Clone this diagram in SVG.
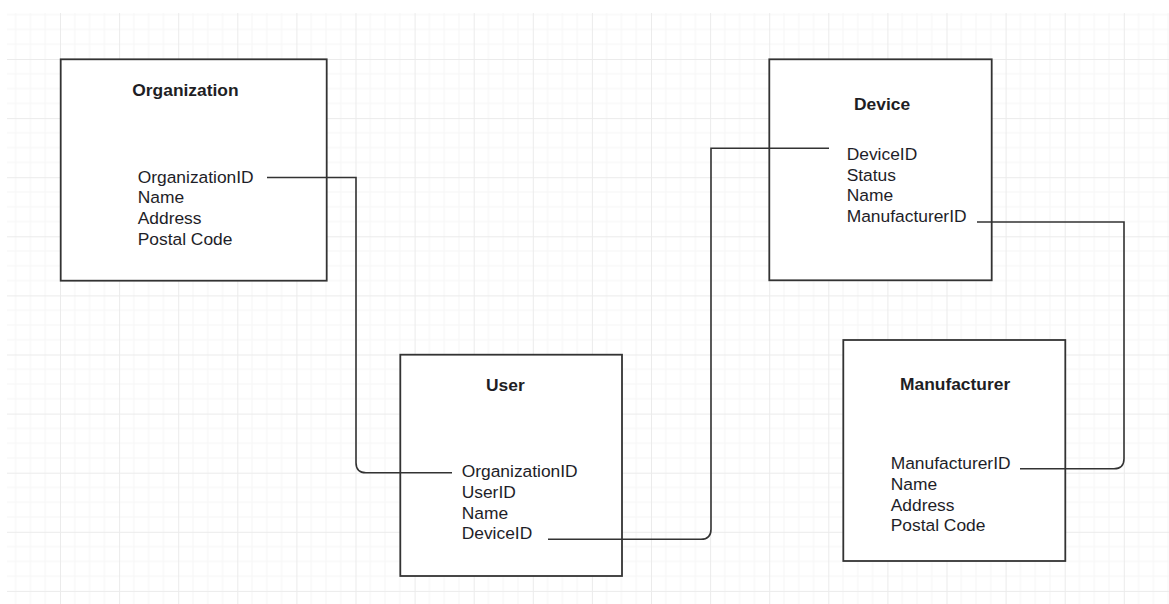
<svg xmlns="http://www.w3.org/2000/svg" width="1169" height="604" viewBox="0 0 1169 604">
  <style>
    .box { fill: #ffffff; stroke: #333333; stroke-width: 1.8; }
    .title { font-family: "Liberation Sans", Arial, sans-serif; font-size: 17.4px; font-weight: bold; fill: #1e1e24; }
    .field { font-family: "Liberation Sans", Arial, sans-serif; font-size: 17.4px; fill: #1e1e28; }
    .link { fill: none; stroke: #333333; stroke-width: 1.6; }
  </style>
  <defs>
    <!-- canvas grid: minor every 14.78px, major every 59.1px -->
    <pattern id="grid" patternUnits="userSpaceOnUse" x="60" y="59" width="59.1" height="59.1">
      <g stroke="#f5f5f5" stroke-width="1">
        <line x1="14.78" y1="0" x2="14.78" y2="59.1"/>
        <line x1="29.55" y1="0" x2="29.55" y2="59.1"/>
        <line x1="44.33" y1="0" x2="44.33" y2="59.1"/>
        <line x1="0" y1="14.78" x2="59.1" y2="14.78"/>
        <line x1="0" y1="29.55" x2="59.1" y2="29.55"/>
        <line x1="0" y1="44.33" x2="59.1" y2="44.33"/>
      </g>
      <g stroke="#ebebeb" stroke-width="1">
        <line x1="0.5" y1="0" x2="0.5" y2="59.1"/>
        <line x1="0" y1="0.5" x2="59.1" y2="0.5"/>
      </g>
    </pattern>
  </defs>

  <rect x="0" y="0" width="1169" height="604" fill="#ffffff"/>
  <rect x="7" y="13" width="1162" height="591" fill="url(#grid)"/>

  <g id="organization">
    <rect class="box" x="60.7" y="59.3" width="266" height="221.4"/>
    <text class="title" x="132.3" y="95.7">Organization</text>
    <text class="field" x="137.7" y="182.7">OrganizationID</text>
    <text class="field" x="137.7" y="203.3">Name</text>
    <text class="field" x="137.7" y="224">Address</text>
    <text class="field" x="137.7" y="244.6">Postal Code</text>
  </g>

  <g id="user">
    <rect class="box" x="400.3" y="354.7" width="221.7" height="221.3"/>
    <text class="title" x="486" y="390.7">User</text>
    <text class="field" x="461.7" y="477.3">OrganizationID</text>
    <text class="field" x="461.7" y="498">UserID</text>
    <text class="field" x="461.7" y="518.7">Name</text>
    <text class="field" x="461.7" y="539.3">DeviceID</text>
  </g>

  <g id="device">
    <rect class="box" x="769.3" y="59.3" width="222.4" height="221"/>
    <text class="title" x="854" y="110">Device</text>
    <text class="field" x="846.7" y="160">DeviceID</text>
    <text class="field" x="846.7" y="180.7">Status</text>
    <text class="field" x="846.7" y="201.3">Name</text>
    <text class="field" x="846.7" y="222">ManufacturerID</text>
  </g>

  <g id="manufacturer">
    <rect class="box" x="843.3" y="340" width="222" height="221"/>
    <text class="title" x="900" y="390.3">Manufacturer</text>
    <text class="field" x="890.7" y="469.3">ManufacturerID</text>
    <text class="field" x="890.7" y="490">Name</text>
    <text class="field" x="890.7" y="510.7">Address</text>
    <text class="field" x="890.7" y="531.4">Postal Code</text>
  </g>

  <!-- key links, drawn over the tables so they reach each field name -->
  <g id="connectors">
    <path class="link" d="M267,177.5 H356 V462.7 Q356,472.7 366,472.7 H452"/>
    <path class="link" d="M548,539.3 H701 Q711,539.3 711,529.3 V148.3 H829"/>
    <path class="link" d="M977,222 H1124 V458.7 Q1124,468.7 1114,468.7 H1020"/>
  </g>
</svg>
